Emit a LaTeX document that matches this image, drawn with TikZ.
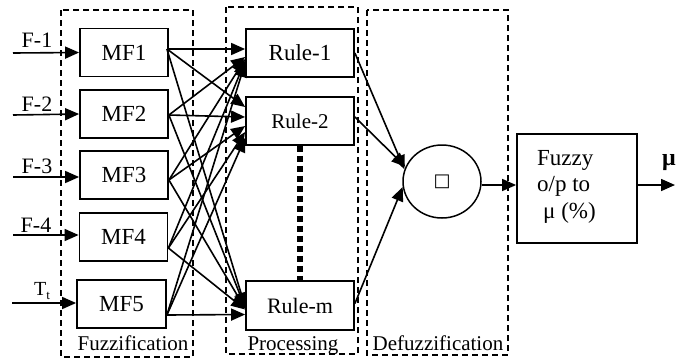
\documentclass[tikz,border=0pt]{standalone}
\usepackage{fontspec}
\setmainfont{Liberation Serif}
\newfontfamily\symfont{DejaVu Sans}
\usetikzlibrary{arrows.meta,calc,shapes.geometric}
\begin{document}
\begin{tikzpicture}[x=1pt,y=-1pt,
  box/.style={draw, line width=1.8pt, minimum width=88pt, minimum height=48pt, inner sep=0pt, font=\fontsize{23}{27}\selectfont},
  rulebox/.style={box, minimum width=108pt},
  zone/.style={draw, line width=1.4pt, dash pattern=on 6pt off 4pt},
  arr/.style={line width=1.6pt, -{Triangle[length=14pt,width=12pt]}},
  lbl/.style={font=\fontsize{22}{26}\selectfont, inner sep=0pt, anchor=base},
  zonelbl/.style={font=\fontsize{21}{25}\selectfont, inner sep=0pt, anchor=base}
]
\useasboundingbox (0,0) rectangle (685,360);

% dashed zones
\draw[zone] (61,10) rectangle (193,357);
\draw[zone] (226,7) rectangle (358,354);
\draw[zone] (367,10) rectangle (508,355);
\node[zonelbl] (zl1) at (133,350) {Fuzzification};
\node[zonelbl] (zl2) at (293,350) {Processing};
\node[zonelbl] (zl3) at (438,350) {Defuzzification};

% MF boxes
\node[box] (m1) at (124,52.5) {MF1};
\node[box] (m2) at (124,114) {MF2};
\node[box] (m3) at (124,175) {MF3};
\node[box] (m4) at (123.5,237) {MF4};
\node[box, minimum width=89pt] (m5) at (121.5,304) {MF5};

% Rule boxes
\node[rulebox] (r1) at (300,53) {Rule-1};
\node[rulebox, font=\fontsize{21}{25}\selectfont] (r2) at (300,121) {Rule-2};
\node[rulebox, font=\fontsize{22}{26}\selectfont, minimum height=49pt] (r3) at (300,305.5) {Rule-m};
\draw[line width=6pt, dash pattern=on 6pt off 4pt] (r2.south) -- (r3.north);

% circle and output box
\node[draw, ellipse, line width=1.5pt, minimum width=78pt, minimum height=73pt, inner sep=0pt] (c) at (442,181.5) {\symfont\fontsize{18}{18}\selectfont □};
\node[draw, line width=1.8pt, minimum width=120pt, minimum height=109pt, inner sep=0pt] (fz) at (577,188.5) {};
\node[anchor=north west, align=left, inner sep=0pt, font=\fontsize{23}{26.5}\selectfont] (fzt) at (537,150) {Fuzzy\\o/p to\\\hspace{6pt}μ (\%)};

% inputs
\coordinate (i1) at (13,53);
\coordinate (i2) at (13,115);
\coordinate (i3) at (13,177);
\coordinate (i4) at (13,235);
\coordinate (i5) at (12,303);
\draw[arr] (i1) -- (m1.west);
\draw[arr] (i2) -- (m2.west);
\draw[arr] (i3) -- ($(m3.west)+(0,2)$);
\draw[arr] (i4) -- ($(m4.west)+(0,-2)$);
\draw[arr] (i5) -- ($(m5.west)+(0,-1)$);
\node[lbl] (l1) at (37,47) {F-1};
\node[lbl] (l2) at (37,111) {F-2};
\node[lbl] (l3) at (37,173) {F-3};
\node[lbl] (l4) at (36,232) {F-4};
\node[lbl, font=\fontsize{20}{24}\selectfont] (l5) at (42,295) {T\raisebox{-4pt}{\fontsize{13}{13}\selectfont t}};

% fan-out points
\coordinate (o1) at ($(m1.east)+(-2,-3.5)$);
\coordinate (o2) at ($(m2.east)+(0,1)$);
\coordinate (o3) at ($(m3.east)+(0,5)$);
\coordinate (o4) at ($(m4.east)+(0,11)$);
\coordinate (o5) at ($(m5.east)+(0,11)$);

% MF -> Rule-1
\draw[arr] (o1) -- ($(r1.west)+(0,-4)$);
\draw[arr] (o2) -- ($(r1.west)+(0,4)$);
\draw[arr] (o3) -- ($(r1.west)+(0,6)$);
\draw[arr] (o4) -- ($(r1.west)+(0,8)$);
\draw[arr] (o5) -- ($(r1.west)+(0,10)$);
% MF -> Rule-2
\draw[arr] (o1) -- ($(r2.west)+(0,-14)$);
\draw[arr] (o2) -- ($(r2.west)+(0,-4)$);
\draw[arr] (o3) -- ($(r2.west)+(0,5)$);
\draw[arr] (o4) -- ($(r2.west)+(0,11)$);
\draw[arr] (o5) -- ($(r2.west)+(0,17)$);
% MF -> Rule-m
\draw[arr] (o1) -- ($(r3.west)+(0,1)$);
\draw[arr] (o2) -- ($(r3.west)+(0,2)$);
\draw[arr] (o3) -- ($(r3.west)+(0,3)$);
\draw[arr] (o4) -- ($(r3.west)+(0,4)$);
\draw[arr] (o5) -- ($(r3.west)+(0,9)$);

% Rules -> circle
\draw[arr] (r1.east) -- (c.162);
\draw[arr] ($(r2.east)+(0,-4)$) -- (c.158);
\draw[arr] ($(r3.east)+(0,-2)$) -- (c.188);

% circle -> fuzzy -> output
\draw[arr] ($(c.east)+(0,3.5)$) -- ($(fz.west)+(0,-3.5)$);
\coordinate (out) at (675,185);
\draw[arr] ($(fz.east)+(0,-3.5)$) -- (out);
\node[font=\fontsize{24}{28}\selectfont\bfseries, inner sep=0pt] (mu) at (669,163) {μ};
\end{tikzpicture}
\end{document}
